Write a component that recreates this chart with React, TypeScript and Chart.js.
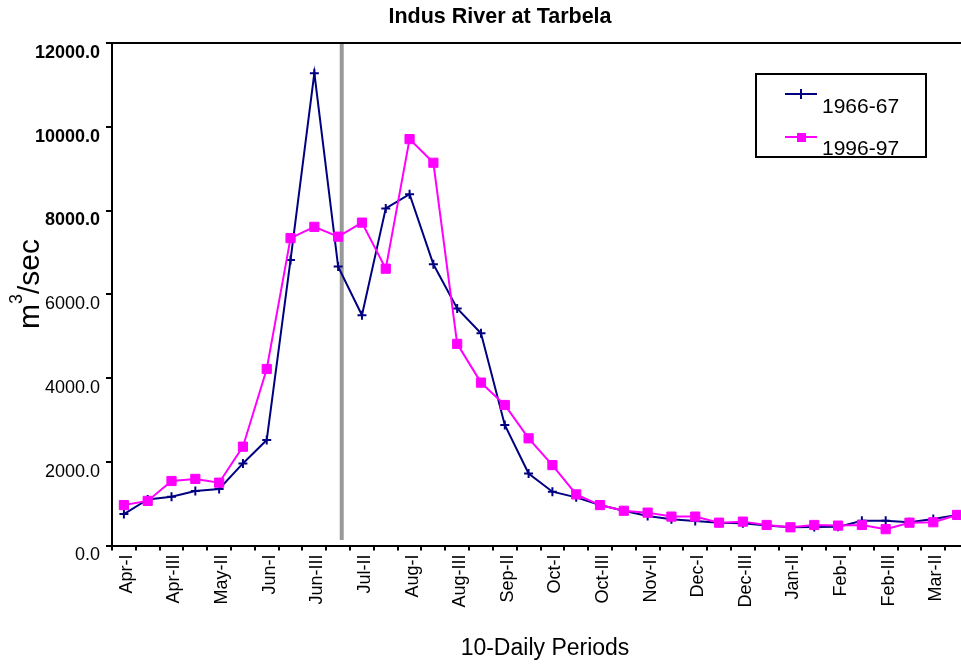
import React, { useEffect, useRef } from 'react';
import { Chart, registerables } from 'chart.js';

Chart.register(...registerables);

const FONT = '"Liberation Sans", Arial, Helvetica, sans-serif';

const chartTitle = 'Indus River at Tarbela';
const xAxisTitle = '10-Daily Periods';
const yAxisTitleBase = 'm';
const yAxisTitleSup = '3';
const yAxisTitleRest = '/sec';

const categories = [
  'Apr-I', 'Apr-II', 'Apr-III', 'May-I', 'May-II', 'May-III',
  'Jun-I', 'Jun-II', 'Jun-III', 'Jul-I', 'Jul-II', 'Jul-III',
  'Aug-I', 'Aug-II', 'Aug-III', 'Sep-I', 'Sep-II', 'Sep-III',
  'Oct-I', 'Oct-II', 'Oct-III', 'Nov-I', 'Nov-II', 'Nov-III',
  'Dec-I', 'Dec-II', 'Dec-III', 'Jan-I', 'Jan-II', 'Jan-III',
  'Feb-I', 'Feb-II', 'Feb-III', 'Mar-I', 'Mar-II', 'Mar-III',
];

const seriesNames = ['1966-67', '1996-97'];

const flow1966 = [
  750, 1100, 1165, 1300, 1350, 1960,
  2520, 6820, 11280, 6660, 5500, 8050,
  8390, 6715, 5660, 5070, 2880, 1720,
  1285, 1150, 965, 830, 705, 625,
  585, 545, 530, 480, 435, 440,
  445, 590, 590, 555, 635, 730,
];

const flow1996 = [
  965, 1065, 1540, 1590, 1500, 2360,
  4215, 7340, 7610, 7375, 7710, 6610,
  9705, 9140, 4815, 3890, 3355, 2560,
  1920, 1220, 965, 830, 785, 690,
  690, 545, 570, 490, 435, 490,
  475, 490, 390, 545, 555, 730,
];

const yMin = 0;
const yMax = 12000;
const yStep = 2000;

// reference marker line (fractional category index), from top down to this value
const markerIndex = 9.15;
const markerTop = 12000;
const markerBottom = 130;

const NAVY = '#000080';
const MAGENTA = '#FF00FF';

export default function App() {
  const ref = useRef<HTMLCanvasElement>(null);

  useEffect(() => {
    const canvas = ref.current;
    if (!canvas) return;

    const overlay = {
      id: 'overlay',
      beforeDatasetsDraw(chart: any) {
        const ctx = chart.ctx;
        const x = chart.scales.x.getPixelForValue(markerIndex);
        const yTop = chart.scales.y.getPixelForValue(markerTop);
        const yBot = chart.scales.y.getPixelForValue(markerBottom);
        ctx.save();
        ctx.strokeStyle = '#999999';
        ctx.lineWidth = 4;
        ctx.beginPath();
        ctx.moveTo(x, yTop);
        ctx.lineTo(x, yBot);
        ctx.stroke();
        ctx.restore();
      },
      afterDraw(chart: any) {
        const ctx = chart.ctx;
        const area = chart.chartArea;
        ctx.save();
        // top frame line
        ctx.strokeStyle = '#000';
        ctx.lineWidth = 2;
        ctx.beginPath();
        ctx.moveTo(area.left - 1, area.top);
        ctx.lineTo(area.right + 10, area.top);
        ctx.stroke();

        // title
        ctx.fillStyle = '#000';
        ctx.textAlign = 'center';
        ctx.textBaseline = 'alphabetic';
        ctx.font = `bold 21.5px ${FONT}`;
        ctx.fillText(chartTitle, 500, 23);

        // x axis title
        ctx.font = `23px ${FONT}`;
        ctx.fillText(xAxisTitle, 545, 655);

        // y axis title (rotated, with superscript)
        ctx.save();
        ctx.translate(39, 329);
        ctx.rotate(-Math.PI / 2);
        ctx.textAlign = 'left';
        ctx.font = `30px ${FONT}`;
        ctx.fillText(yAxisTitleBase, 0, 0);
        const mW = ctx.measureText(yAxisTitleBase).width;
        ctx.font = `18px ${FONT}`;
        ctx.fillText(yAxisTitleSup, mW, -17);
        const sW = ctx.measureText(yAxisTitleSup).width;
        ctx.font = `30px ${FONT}`;
        ctx.fillText(yAxisTitleRest, mW + sW, 0);
        ctx.restore();

        // legend
        ctx.fillStyle = '#fff';
        ctx.fillRect(756, 74, 170, 83);
        ctx.strokeStyle = '#000';
        ctx.lineWidth = 2;
        ctx.strokeRect(756, 74, 170, 83);

        // entry 1
        ctx.strokeStyle = NAVY;
        ctx.lineWidth = 2;
        ctx.beginPath();
        ctx.moveTo(785, 94);
        ctx.lineTo(817, 94);
        ctx.moveTo(801, 89);
        ctx.lineTo(801, 99);
        ctx.stroke();
        // entry 2
        ctx.strokeStyle = MAGENTA;
        ctx.beginPath();
        ctx.moveTo(785, 137);
        ctx.lineTo(817, 137);
        ctx.stroke();
        ctx.fillStyle = MAGENTA;
        ctx.fillRect(797, 133, 9, 9);

        ctx.fillStyle = '#000';
        ctx.textAlign = 'left';
        ctx.font = `21px ${FONT}`;
        ctx.fillText(seriesNames[0], 822, 113);
        ctx.fillText(seriesNames[1], 822, 155);
        ctx.restore();
      },
    };

    const chart = new Chart(canvas, {
      type: 'line',
      data: {
        labels: categories,
        datasets: [
          {
            label: seriesNames[0],
            data: flow1966,
            borderColor: NAVY,
            backgroundColor: NAVY,
            borderWidth: 2,
            pointStyle: 'cross',
            pointRadius: 4.5,
            pointBorderWidth: 2,
            pointBorderColor: NAVY,
            tension: 0,
            order: 1,
          },
          {
            label: seriesNames[1],
            data: flow1996,
            borderColor: MAGENTA,
            backgroundColor: MAGENTA,
            borderWidth: 2,
            pointStyle: 'rect',
            pointRadius: 6.5,
            pointBorderWidth: 1,
            pointBorderColor: MAGENTA,
            pointBackgroundColor: MAGENTA,
            tension: 0,
            order: 0,
          },
        ],
      },
      options: {
        animation: false,
        responsive: false,
        maintainAspectRatio: false,
        events: [],
        layout: { padding: { top: 43, right: 16, left: 0, bottom: 0 } },
        plugins: {
          legend: { display: false },
          title: { display: false },
          tooltip: { enabled: false },
        },
        scales: {
          x: {
            type: 'category',
            offset: true,
            grid: {
              offset: true,
              drawOnChartArea: false,
              drawTicks: true,
              tickLength: 5,
              color: '#000',
              lineWidth: 2,
            },
            border: { color: '#000', width: 2 },
            ticks: {
              autoSkip: false,
              maxRotation: 90,
              minRotation: 90,
              padding: 4,
              labelOffset: 3,
              color: '#000',
              font: { family: FONT, size: 18 },
              callback: (_v: any, i: number) => (i % 2 === 0 ? categories[i] : ''),
            },
            afterFit: (s: any) => {
              s.height = 120.5;
            },
          },
          y: {
            min: yMin,
            max: yMax,
            grid: {
              drawOnChartArea: false,
              drawTicks: true,
              tickLength: 6,
              color: '#000',
              lineWidth: 2,
            },
            border: { color: '#000', width: 2 },
            ticks: {
              stepSize: yStep,
              padding: 6,
              labelOffset: 10,
              color: '#000',
              callback: (v: any) => Number(v).toFixed(1),
              font: (ctx: any) => ({
                family: FONT,
                size: 18,
                weight: ctx.tick && ctx.tick.value >= 8000 ? 'bold' : 'normal',
              }),
            },
            afterFit: (s: any) => {
              s.width = 112;
            },
          },
        },
      },
      plugins: [overlay],
    } as any);

    return () => chart.destroy();
  }, []);

  return (
    <div
      style={{
        position: 'fixed',
        left: 0,
        top: 0,
        width: 961,
        height: 666,
        overflow: 'hidden',
        background: '#fff',
      }}
    >
      <canvas ref={ref} width={985} height={666} style={{ display: 'block', width: 985, height: 666 }} />
    </div>
  );
}
